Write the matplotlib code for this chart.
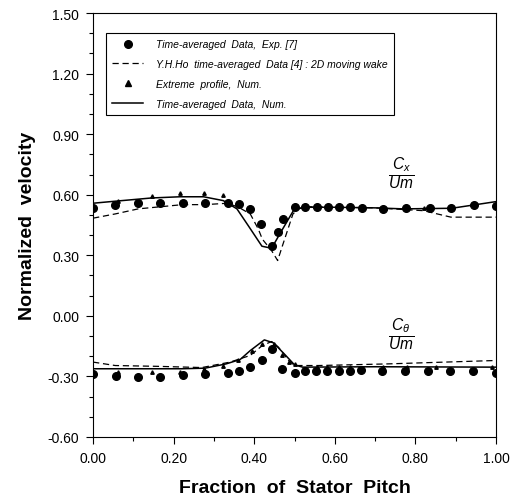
import matplotlib
matplotlib.use("Agg")
import matplotlib.pyplot as plt
from matplotlib.ticker import MultipleLocator, FormatStrFormatter

plt.rcParams['font.family'] = ['Liberation Sans', 'DejaVu Sans']
plt.rcParams['mathtext.fontset'] = 'custom'
plt.rcParams['mathtext.it'] = 'Liberation Sans:italic'
plt.rcParams['mathtext.rm'] = 'Liberation Sans'

# ---- Cx data ----
cx_exp_x = [0.0, 0.055, 0.112, 0.166, 0.222, 0.278, 0.334, 0.361, 0.39, 0.417, 0.443, 0.458, 0.471,
            0.5, 0.526, 0.555, 0.582, 0.609, 0.638, 0.667, 0.72, 0.777, 0.835, 0.888, 0.944, 1.0]
cx_exp_y = [0.533, 0.551, 0.558, 0.558, 0.558, 0.558, 0.559, 0.554, 0.53, 0.454, 0.345, 0.417, 0.48,
            0.538, 0.541, 0.541, 0.541, 0.541, 0.541, 0.535, 0.531, 0.535, 0.535, 0.535, 0.551, 0.543]

cx_ho_x = [0.0, 0.055, 0.112, 0.222, 0.278, 0.334, 0.361, 0.39, 0.41, 0.42, 0.443, 0.458, 0.47,
           0.496, 0.51, 0.53, 0.7, 0.82, 0.888, 1.0]
cx_ho_y = [0.484, 0.505, 0.53, 0.551, 0.551, 0.558, 0.538, 0.505, 0.43, 0.38, 0.323, 0.274, 0.348,
           0.505, 0.53, 0.541, 0.535, 0.521, 0.489, 0.489]

cx_ext_x = [0.063, 0.145, 0.216, 0.274, 0.323, 0.52, 0.55, 0.58, 0.61, 0.64, 0.725, 0.82, 0.94]
cx_ext_y = [0.571, 0.596, 0.609, 0.609, 0.599, 0.542, 0.542, 0.542, 0.540, 0.538, 0.532, 0.534, 0.553]

cx_num_x = [0.0, 0.055, 0.145, 0.216, 0.274, 0.323, 0.357, 0.385, 0.419, 0.443, 0.468, 0.497,
            0.52, 0.6, 0.7, 0.77, 0.89, 1.0]
cx_num_y = [0.558, 0.568, 0.584, 0.59, 0.59, 0.571, 0.53, 0.447, 0.345, 0.335, 0.422, 0.521,
            0.538, 0.538, 0.535, 0.53, 0.533, 0.566]

# ---- C_theta data ----
ct_exp_x = [0.0, 0.057, 0.112, 0.166, 0.222, 0.278, 0.334, 0.362, 0.39, 0.418, 0.444, 0.47,
            0.5, 0.527, 0.553, 0.58, 0.609, 0.637, 0.664, 0.718, 0.775, 0.832, 0.886, 0.942, 1.0]
ct_exp_y = [-0.287, -0.299, -0.304, -0.304, -0.295, -0.29, -0.282, -0.274, -0.254, -0.221, -0.163, -0.262,
            -0.282, -0.274, -0.274, -0.274, -0.271, -0.271, -0.267, -0.271, -0.274, -0.271, -0.271, -0.271, -0.282]

ct_ho_x = [0.0, 0.055, 0.16, 0.27, 0.34, 0.39, 0.42, 0.443, 0.46, 0.485, 0.5, 0.56, 0.73, 1.0]
ct_ho_y = [-0.229, -0.246, -0.25, -0.256, -0.229, -0.196, -0.147, -0.127, -0.155, -0.221, -0.246,
           -0.246, -0.238, -0.221]

ct_ext_x = [0.063, 0.145, 0.216, 0.274, 0.323, 0.36, 0.395, 0.42, 0.448, 0.468, 0.485, 0.5,
            0.555, 0.58, 0.61, 0.637, 0.72, 0.78, 0.85, 0.99]
ct_ext_y = [-0.279, -0.279, -0.279, -0.262, -0.249, -0.221, -0.172, -0.139, -0.139, -0.196, -0.229, -0.24,
            -0.252, -0.252, -0.252, -0.252, -0.252, -0.252, -0.252, -0.252]

ct_num_x = [0.0, 0.22, 0.278, 0.33, 0.365, 0.39, 0.425, 0.448, 0.478, 0.5, 0.52, 0.7, 1.0]
ct_num_y = [-0.262, -0.262, -0.259, -0.238, -0.216, -0.172, -0.119, -0.134, -0.196, -0.243, -0.254,
            -0.252, -0.254]

labels = ["Time-averaged  Data,  Exp. [7]",
          "Y.H.Ho  time-averaged  Data [4] : 2D moving wake",
          "Extreme  profile,  Num.",
          "Time-averaged  Data,  Num."]

fig = plt.figure(figsize=(5.2, 5.02), dpi=100)
ax = fig.add_axes([0.179, 0.1275, 0.775, 0.8445])

dash = (5, 3)
h1, = ax.plot(cx_exp_x, cx_exp_y, 'o', color='black', markersize=5.5, linestyle='none')
ax.plot(ct_exp_x, ct_exp_y, 'o', color='black', markersize=5.5, linestyle='none')
h2, = ax.plot(cx_ho_x, cx_ho_y, '--', color='black', linewidth=0.9, dashes=dash)
ax.plot(ct_ho_x, ct_ho_y, '--', color='black', linewidth=0.9, dashes=dash)
h3, = ax.plot(cx_ext_x, cx_ext_y, '^', color='black', markersize=2.5, linestyle='none')
ax.plot(ct_ext_x, ct_ext_y, '^', color='black', markersize=2.5, linestyle='none')
h4, = ax.plot(cx_num_x, cx_num_y, '-', color='black', linewidth=1.1)
ax.plot(ct_num_x, ct_num_y, '-', color='black', linewidth=1.1)

leg = ax.legend([h1, h2, h3, h4], labels, loc='upper left', bbox_to_anchor=(0.032, 0.953),
                frameon=True, fancybox=False, edgecolor='black', framealpha=1,
                prop={'style': 'italic', 'size': 7.5}, handlelength=3.0, labelspacing=0.95,
                borderpad=0.6, handletextpad=1.2, borderaxespad=0)
leg.get_frame().set_linewidth(0.8)
leg.legend_handles[2].set_markersize(5)

ax.text(0.764, 0.705, r'$\frac{C_x}{Um}$', fontsize=16, ha='center', va='center')
ax.text(0.764, -0.09, r'$\frac{C_\theta}{Um}$', fontsize=16, ha='center', va='center')

ax.set_xlim(0, 1.0)
ax.set_ylim(-0.6, 1.5)
ax.xaxis.set_major_locator(MultipleLocator(0.2))
ax.xaxis.set_minor_locator(MultipleLocator(0.1))
ax.yaxis.set_major_locator(MultipleLocator(0.3))
ax.yaxis.set_minor_locator(MultipleLocator(0.1))
ax.xaxis.set_major_formatter(FormatStrFormatter('%.2f'))
ax.yaxis.set_major_formatter(FormatStrFormatter('%.2f'))
ax.tick_params(which='major', direction='out', length=5, width=0.8, labelsize=10, pad=5)
ax.tick_params(which='minor', direction='out', length=3, width=0.8)
for s in ax.spines.values():
    s.set_linewidth(0.8)

ax.set_xlabel('Fraction  of  Stator  Pitch', fontsize=14, fontweight='bold')
ax.set_ylabel('Normalized  velocity', fontsize=14, fontweight='bold')
ax.xaxis.set_label_coords(0.5, -0.098)
ax.yaxis.set_label_coords(-0.142, 0.5)

fig.savefig('out.png', dpi=100)
